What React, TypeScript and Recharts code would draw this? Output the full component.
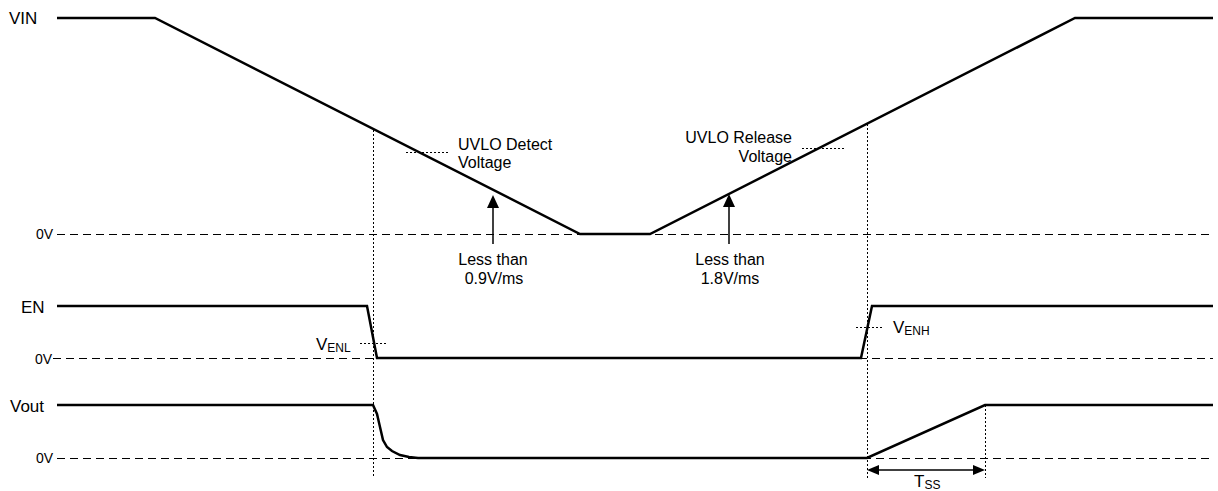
import { LineChart, Line, XAxis, YAxis, ReferenceLine, ReferenceDot } from 'recharts';

// time axis runs 0..1218, level axis 0..491 (top down), one row per signal
const vinTrace = [
  { t: 57, y: 18 }, { t: 155, y: 18 }, { t: 580, y: 234 },
  { t: 650, y: 234 }, { t: 1075, y: 18 }, { t: 1213, y: 18 },
];
const enTrace = [
  { t: 57, y: 306 }, { t: 367, y: 306 }, { t: 377, y: 358 },
  { t: 861, y: 358 }, { t: 872, y: 306 }, { t: 1213, y: 306 },
];
const voutTrace = [
  { t: 57, y: 405 }, { t: 373, y: 405 }, { t: 377, y: 414 }, { t: 380, y: 427 },
  { t: 383, y: 440 }, { t: 387, y: 447 }, { t: 392, y: 451 }, { t: 400, y: 455 },
  { t: 409, y: 457 }, { t: 418, y: 458 }, { t: 867, y: 458 },
  { t: 985, y: 405 }, { t: 1213, y: 405 },
];

const zeroLevels = [234, 358, 458];
const zeroStart = [57, 53, 57];
const zeroEnd = 1213;

// dotted guides: [x1, y1, x2, y2]
const dottedGuides = [
  [373, 130, 373, 478],
  [867, 124, 867, 478],
  [985, 405, 985, 478],
  [406, 152, 450, 152],
  [802, 148, 845, 148],
  [360, 343, 387, 343],
  [856, 327, 883, 327],
];

// arrows
const slopeArrows = [
  { x: 493, tip: 195, tail: 244 },
  { x: 729, tip: 194, tail: 244 },
];
const tssSpan = { from: 867, to: 985, y: 470 };

const signalLabels = [
  { text: 'VIN', x: 9, y: 24 },
  { text: 'EN', x: 21, y: 313 },
  { text: 'Vout', x: 10, y: 412 },
];
const zeroLabels = [
  { text: '0V', x: 53, y: 239 },
  { text: '0V', x: 52, y: 364 },
  { text: '0V', x: 53, y: 463 },
];
const notes = [
  { text: 'UVLO Detect', x: 458, y: 150, anchor: 'start' },
  { text: 'Voltage', x: 458, y: 168, anchor: 'start' },
  { text: 'UVLO Release', x: 792, y: 143, anchor: 'end' },
  { text: 'Voltage', x: 792, y: 162, anchor: 'end' },
  { text: 'Less than', x: 493, y: 265, anchor: 'middle' },
  { text: '0.9V/ms', x: 494, y: 284, anchor: 'middle' },
  { text: 'Less than', x: 730, y: 265, anchor: 'middle' },
  { text: '1.8V/ms', x: 730, y: 284, anchor: 'middle' },
];
const subLabels = [
  { main: 'V', sub: 'ENL', x: 316, y: 350 },
  { main: 'V', sub: 'ENH', x: 893, y: 333 },
  { main: 'T', sub: 'SS', x: 914, y: 487 },
];

const FONT = '"Liberation Sans", Arial, sans-serif';

const TextShape = (text: string, size: number, anchor: string) => (p: any) => (
  <text x={p.cx} y={p.cy} fontSize={size} fontFamily={FONT} fill="#000" textAnchor={anchor}>
    {text}
  </text>
);

const SubShape = (main: string, sub: string) => (p: any) => (
  <text x={p.cx} y={p.cy} fontSize={17} fontFamily={FONT} fill="#000">
    {main}
    <tspan fontSize={12} dy={2}>{sub}</tspan>
  </text>
);

const headShape = (dir: 'up' | 'left' | 'right') => (p: any) => {
  const { cx, cy } = p;
  let pts = '';
  if (dir === 'up') pts = `${cx},${cy} ${cx - 6},${cy + 13} ${cx + 6},${cy + 13}`;
  if (dir === 'left') pts = `${cx},${cy} ${cx + 12},${cy - 5} ${cx + 12},${cy + 5}`;
  if (dir === 'right') pts = `${cx},${cy} ${cx - 12},${cy - 5} ${cx - 12},${cy + 5}`;
  return <polygon points={pts} fill="#000" />;
};

export default function App() {
  return (
    <div style={{ position: 'absolute', left: 0, top: 0, background: '#fff' }}>
      <LineChart width={1218} height={491} margin={{ top: 0, right: 0, bottom: 0, left: 0 }}>
        <XAxis type="number" dataKey="t" domain={[0, 1218]} hide />
        <YAxis type="number" dataKey="y" domain={[0, 491]} reversed hide />

        {zeroLevels.map((lv, i) => (
          <ReferenceLine
            key={'z' + i}
            segment={[{ x: zeroStart[i], y: lv }, { x: zeroEnd, y: lv }]}
            stroke="#000"
            strokeWidth={1}
            strokeDasharray="8 5"
            shapeRendering="crispEdges"
          />
        ))}
        {dottedGuides.map((g, i) => (
          <ReferenceLine
            key={'d' + i}
            segment={[{ x: g[0], y: g[1] }, { x: g[2], y: g[3] }]}
            stroke="#000"
            strokeWidth={1}
            strokeDasharray="2 2"
            shapeRendering="crispEdges"
          />
        ))}
        {slopeArrows.map((a, i) => (
          <ReferenceLine
            key={'a' + i}
            segment={[{ x: a.x, y: a.tip + 10 }, { x: a.x, y: a.tail }]}
            stroke="#000"
            strokeWidth={1.5}
          />
        ))}
        {slopeArrows.map((a, i) => (
          <ReferenceDot key={'ah' + i} x={a.x} y={a.tip} r={0} shape={headShape('up')} />
        ))}
        <ReferenceLine
          segment={[{ x: tssSpan.from + 8, y: tssSpan.y }, { x: tssSpan.to - 8, y: tssSpan.y }]}
          stroke="#000"
          strokeWidth={1.5}
        />
        <ReferenceDot x={tssSpan.from} y={tssSpan.y} r={0} shape={headShape('left')} />
        <ReferenceDot x={tssSpan.to} y={tssSpan.y} r={0} shape={headShape('right')} />

        <Line data={vinTrace} dataKey="y" type="linear" stroke="#000" strokeWidth={2.5} dot={false} activeDot={false} isAnimationActive={false} />
        <Line data={enTrace} dataKey="y" type="linear" stroke="#000" strokeWidth={2.5} dot={false} activeDot={false} isAnimationActive={false} />
        <Line data={voutTrace} dataKey="y" type="linear" stroke="#000" strokeWidth={2.5} dot={false} activeDot={false} isAnimationActive={false} />

        {signalLabels.map((l, i) => (
          <ReferenceDot key={'s' + i} x={l.x} y={l.y} r={0} shape={TextShape(l.text, 17, 'start')} />
        ))}
        {zeroLabels.map((l, i) => (
          <ReferenceDot key={'zl' + i} x={l.x} y={l.y} r={0} shape={TextShape(l.text, 14, 'end')} />
        ))}
        {notes.map((n, i) => (
          <ReferenceDot key={'n' + i} x={n.x} y={n.y} r={0} shape={TextShape(n.text, 16, n.anchor)} />
        ))}
        {subLabels.map((s, i) => (
          <ReferenceDot key={'sb' + i} x={s.x} y={s.y} r={0} shape={SubShape(s.main, s.sub)} />
        ))}
      </LineChart>
    </div>
  );
}
